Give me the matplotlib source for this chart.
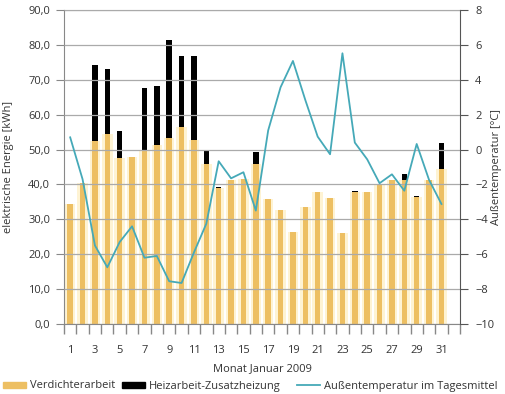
import matplotlib
matplotlib.use("Agg")
import matplotlib.pyplot as plt
from matplotlib.patches import Patch
from matplotlib.lines import Line2D
import numpy as np

plt.rcParams['font.family'] = ['Open Sans', 'DejaVu Sans']

days = list(range(1, 32))
verdichter = [34.3, 40.5, 52.5, 54.6, 47.7, 47.9, 49.9, 51.3, 53.2, 56.4,
              52.7, 45.8, 39.0, 41.4, 41.7, 45.8, 35.7, 32.7, 26.5, 33.5,
              37.9, 36.0, 26.0, 37.8, 37.9, 39.8, 41.4, 41.3, 36.5, 41.4, 44.4]
heiz = [0.0, 0.0, 21.6, 18.5, 7.5, 0.0, 17.7, 17.0, 28.3, 20.4,
        24.0, 3.7, 0.3, 0.0, 0.0, 3.4, 0.0, 0.0, 0.0, 0.0,
        0.0, 0.0, 0.0, 0.3, 0.0, 0.0, 0.0, 1.6, 0.3, 0.0, 7.6]
temp = [0.7, -1.7, -5.5, -6.75, -5.3, -4.4, -6.2, -6.1, -7.55, -7.65,
        -5.9, -4.25, -0.67, -1.65, -1.3, -3.5, 1.1, 3.57, 5.08, 2.84,
        0.74, -0.27, 5.52, 0.4, -0.56, -1.93, -1.42, -2.36, 0.32, -1.74, -3.12]
xticklabels = [str(d) for d in range(1, 32, 2)]

orange = '#EDBF62'
cream = '#FEF3D3'
teal = '#45A9B8'
txt = '#333333'
fs = 8
W, H = 506, 394

fig = plt.figure(figsize=(W/100, H/100), dpi=100)
ax = fig.add_axes([64/W, 1-324/H, (460-64)/W, (324-10)/H])

x = np.array(days)
ax.bar(x, verdichter, width=0.85, color=cream, zorder=0.5, linewidth=0)
ax.set_ylim(0, 90)
ax.set_xlim(0.5, 32.5)
ax.set_yticks(np.arange(0, 91, 10))
ax.set_yticklabels([f"{v:.1f}".replace('.', ',') for v in np.arange(0, 91, 10)])
ax.yaxis.grid(True, color='#aaaaaa', linewidth=0.9, zorder=1)
ax.set_axisbelow(False)
ax.bar(x, verdichter, width=0.44, color=orange, zorder=2, linewidth=0)
ax.bar(x, heiz, bottom=verdichter, width=0.44, color='black', zorder=2, linewidth=0)

ax.set_xticks(np.arange(0.5, 33, 1))
ax.set_xticklabels([])
ax.set_xticks(list(range(1, 32, 2)), minor=True)
ax.set_xticklabels(xticklabels, minor=True)
ax.tick_params(axis='x', which='major', length=7, color='#888888', width=1)
ax.tick_params(axis='x', which='minor', length=0, pad=15, labelsize=fs, labelcolor=txt)
ax.tick_params(axis='y', length=6, color='#888888', labelsize=fs, labelcolor=txt, pad=4)
ax.set_xlabel('Monat Januar 2009', fontsize=fs, color=txt, labelpad=5)
ylab1 = ax.set_ylabel('elektrische Energie [kWh]', fontsize=fs, color=txt)
ylab1.set_verticalalignment('center')
ylab1.set_horizontalalignment('center')
ax.yaxis.set_label_coords((9-64)/(460-64), 0.5)

for s in ['left', 'bottom', 'top']:
    ax.spines[s].set_color('#888888')
ax.spines['right'].set_visible(False)

ax2 = ax.twinx()
ax2.plot(x, temp, color=teal, linewidth=1.3, zorder=3)
ax2.set_ylim(-10, 8)
ax2.set_yticks(np.arange(-10, 9, 2))
ax2.tick_params(axis='y', length=6, color='#555555', labelsize=fs, labelcolor=txt, pad=5)
ylab2 = ax2.set_ylabel('Außentemperatur [°C]', fontsize=fs, color=txt)
ylab2.set_verticalalignment('center')
ylab2.set_horizontalalignment('center')
ax2.yaxis.set_label_coords((497-64)/(460-64), 0.5)
for s in ['left', 'bottom', 'top']:
    ax2.spines[s].set_visible(False)
ax2.spines['right'].set_color('#555555')

handles = [Patch(color=orange), Patch(color='black'), Line2D([], [], color=teal, lw=1.3)]
labels = ['Verdichterarbeit', 'Heizarbeit-Zusatzheizung', 'Außentemperatur im Tagesmittel']
xpos = [3, 122, 297]
for h, l, xp in zip(handles, labels, xpos):
    leg = fig.legend([h], [l], loc='center left', bbox_to_anchor=(xp/W, 8/H),
                     frameon=False, fontsize=fs, handlelength=2.1, handleheight=0.45,
                     handletextpad=0.3, borderpad=0, borderaxespad=0)
    for t in leg.get_texts():
        t.set_color(txt)

fig.savefig('out.png', dpi=100)
